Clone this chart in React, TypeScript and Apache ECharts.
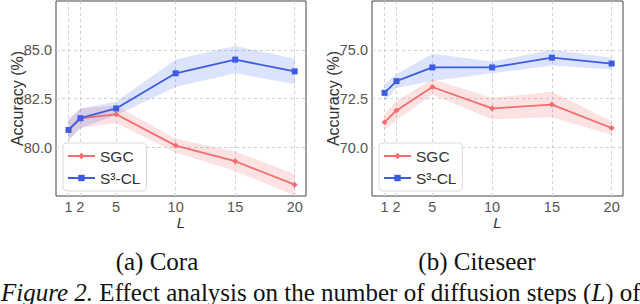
import React, { useEffect, useRef } from "react";
import * as echarts from "echarts";

const L = [1, 2, 5, 10, 15, 20];

const coraSGC = [80.9, 81.5, 81.7, 80.1, 79.3, 78.1];
const coraSGCStd = [0.5, 0.5, 0.45, 0.35, 0.5, 0.55];
const coraS3 = [80.9, 81.5, 82.0, 83.8, 84.5, 83.9];
const coraS3Std = [0.55, 0.5, 0.35, 0.7, 0.7, 0.65];

const citeSGC = [71.3, 71.9, 73.1, 72.0, 72.2, 71.0];
const citeSGCStd = [0.4, 0.5, 0.4, 0.55, 0.65, 0.35];
const citeS3 = [72.8, 73.4, 74.1, 74.1, 74.6, 74.3];
const citeS3Std = [0.45, 0.35, 0.7, 0.3, 0.4, 0.3];

const coraYTicks = [80, 82.5, 85];
const citeYTicks = [70, 72.5, 75];

const RED = "#F26D6D";
const BLUE = "#3C5DE2";
const RED_FILL = "rgba(242,109,109,0.2)";
const BLUE_FILL = "rgba(80,115,240,0.2)";
const SANS = "'Liberation Sans', Arial, sans-serif";
const SERIF = "'Liberation Serif', 'Times New Roman', serif";

function band(mean: number[], std: number[], fill: string, gi: number) {
  return {
    type: "custom",
    xAxisIndex: gi,
    yAxisIndex: gi,
    silent: true,
    z: 1,
    clip: true,
    encode: { x: 0, y: [1, 2] },
    data: L.map((x, i) => [x, mean[i] - std[i], mean[i] + std[i]]),
    renderItem: (params: any, api: any) => {
      if (params.dataIndex !== 0) return null;
      const upper = L.map((x, i) => api.coord([x, mean[i] + std[i]]));
      const lower = L.map((x, i) => api.coord([x, mean[i] - std[i]])).reverse();
      return {
        type: "polygon",
        shape: { points: upper.concat(lower) },
        style: { fill },
      };
    },
  };
}

function line(name: string, vals: number[], color: string, symbol: string, gi: number) {
  return {
    type: "line",
    name,
    xAxisIndex: gi,
    yAxisIndex: gi,
    z: 3,
    data: L.map((x, i) => [x, vals[i]]),
    symbol,
    symbolSize: 6,
    showSymbol: true,
    lineStyle: { color, width: 1.8 },
    itemStyle: { color },
  };
}

function xAxis(gi: number) {
  return {
    type: "value",
    gridIndex: gi,
    min: -0.05,
    max: 20.95,
    name: "L",
    nameLocation: "middle",
    nameGap: 19,
    nameMoveOverlap: false,
    nameTextStyle: { fontFamily: SANS, fontSize: 15, fontStyle: "italic", color: "#333" },
    axisLine: { show: false },
    axisTick: { show: false, customValues: L },
    axisLabel: {
      customValues: L,
      margin: 3,
      fontFamily: SANS,
      fontSize: 14.5,
      color: "#555",
    },
    splitLine: { show: true, lineStyle: { color: "#cfcfcf", type: [3, 3], width: 1 } },
  };
}

function yAxis(gi: number, min: number, max: number, ticks: number[]) {
  return {
    type: "value",
    gridIndex: gi,
    min,
    max,
    name: "Accuracy (%)",
    nameLocation: "middle",
    nameGap: 31,
    nameMoveOverlap: false,
    nameRotate: 90,
    nameTextStyle: { fontFamily: SANS, fontSize: 16, color: "#333" },
    axisLine: { show: false },
    axisTick: { show: false, customValues: ticks },
    axisLabel: {
      customValues: ticks,
      margin: 4,
      fontFamily: SANS,
      fontSize: 14.5,
      color: "#555",
      formatter: (v: number) => v.toFixed(1),
    },
    splitLine: { show: true, lineStyle: { color: "#cfcfcf", type: [3, 3], width: 1 } },
  };
}

function legend(left: number) {
  return {
    orient: "vertical",
    left,
    top: 143,
    data: ["SGC", "S³-CL"],
    itemWidth: 27,
    itemHeight: 8,
    itemGap: 6,
    padding: [5, 6, 5, 4],
    backgroundColor: "rgba(255,255,255,0.85)",
    borderColor: "#dcdcdc",
    borderWidth: 1,
    borderRadius: 4,
    textStyle: { fontFamily: SANS, fontSize: 15.5, color: "#333" },
  };
}

export default function App() {
  const ref = useRef<HTMLDivElement>(null);
  useEffect(() => {
    document.body.style.margin = "0";
    const chart = echarts.init(ref.current!, null, { renderer: "svg" });
    chart.setOption({
      animation: false,
      backgroundColor: "#fff",
      grid: [
        { left: 56, top: 1, width: 250, height: 195, show: true, borderColor: "#444", borderWidth: 1, backgroundColor: "transparent" },
        { left: 372, top: 1, width: 251, height: 195, show: true, borderColor: "#444", borderWidth: 1, backgroundColor: "transparent" },
      ],
      legend: [legend(63), legend(379)],
      xAxis: [xAxis(0), xAxis(1)],
      yAxis: [yAxis(0, 77.52, 87.5, coraYTicks), yAxis(1, 67.52, 77.5, citeYTicks)],
      series: [
        band(coraSGC, coraSGCStd, RED_FILL, 0),
        band(coraS3, coraS3Std, BLUE_FILL, 0),
        line("SGC", coraSGC, RED, "diamond", 0),
        line("S³-CL", coraS3, BLUE, "rect", 0),
        band(citeSGC, citeSGCStd, RED_FILL, 1),
        band(citeS3, citeS3Std, BLUE_FILL, 1),
        line("SGC", citeSGC, RED, "diamond", 1),
        line("S³-CL", citeS3, BLUE, "rect", 1),
      ],
      graphic: [
        {
          type: "text",
          x: 157,
          y: 261,
          style: { text: "(a) Cora", fontFamily: SERIF, fontSize: 25, fill: "#111", align: "center", verticalAlign: "middle" },
        },
        {
          type: "text",
          x: 477,
          y: 261,
          style: { text: "(b) Citeseer", fontFamily: SERIF, fontSize: 25, fill: "#111", align: "center", verticalAlign: "middle" },
        },
        {
          type: "text",
          x: 1,
          y: 305,
          style: {
            text: "{i|Figure 2.} Effect analysis on the number of diffusion steps ({i|L}) of",
            fontFamily: SERIF,
            fontSize: 25,
            fill: "#111",
            verticalAlign: "bottom",
            rich: { i: { fontStyle: "italic", fontFamily: SERIF, fontSize: 25, fill: "#111" } },
          },
        },
      ],
    });
    return () => chart.dispose();
  }, []);
  return <div ref={ref} style={{ width: 640, height: 304 }} />;
}
